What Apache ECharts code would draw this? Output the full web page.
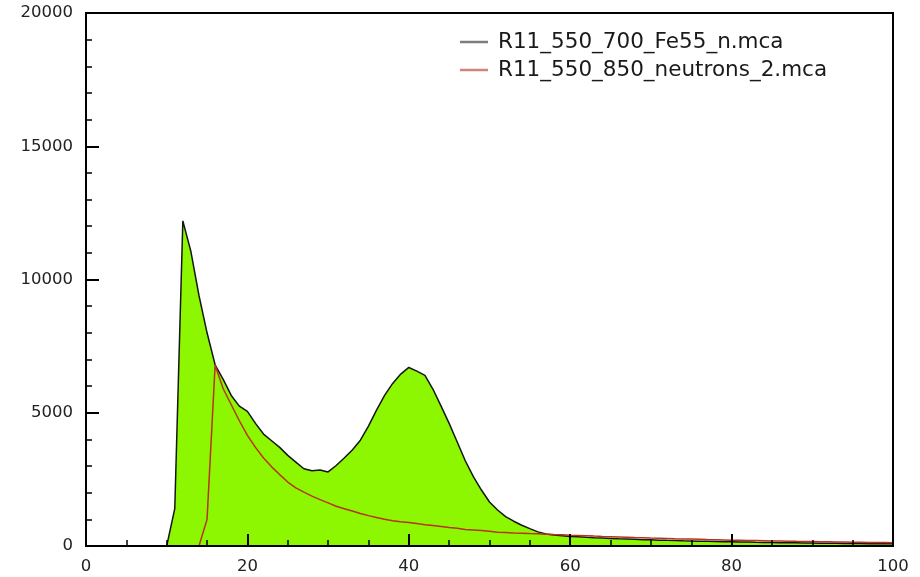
<!DOCTYPE html>
<html>
<head>
<meta charset="utf-8">
<script src="https://cdn.jsdelivr.net/npm/echarts@6/dist/echarts.min.js"></script>
<style>
  html, body { margin: 0; padding: 0; background: #fff; }
  #chart { width: 920px; height: 577px; }
</style>
</head>
<body>
<div id="chart"></div>
<script>
// Spectrum counts per channel (channel = array index, 0..100)
const fe55Name = 'R11_550_700_Fe55_n.mca';
const neutronName = 'R11_550_850_neutrons_2.mca';

const fe55Counts = [
  0, 0, 0, 0, 0, 0, 0, 0, 0, 0,
  0, 1400, 12200, 11050, 9400, 8000, 6800, 6250, 5650, 5250,
  5050, 4600, 4200, 3950, 3700, 3400, 3150, 2900, 2820, 2850,
  2780, 3020, 3300, 3600, 3970, 4500, 5100, 5650, 6100, 6450,
  6700, 6560, 6400, 5880, 5250, 4600, 3900, 3200, 2600, 2100,
  1650, 1350, 1100, 930, 780, 650, 530, 450, 410, 380,
  360, 345, 325, 310, 300, 285, 270, 262, 250, 238,
  232, 220, 212, 205, 196, 190, 182, 176, 170, 163,
  158, 150, 146, 140, 135, 130, 126, 121, 118, 113,
  110, 106, 102, 99, 96, 93, 90, 87, 84, 82,
  80
];

const neutronCounts = [
  0, 0, 0, 0, 0, 0, 0, 0, 0, 0,
  0, 0, 0, 0, 0, 1000, 6780, 5900, 5300, 4700,
  4150, 3700, 3300, 2970, 2680, 2400, 2180, 2020, 1870, 1740,
  1620, 1490, 1400, 1310, 1220, 1140, 1070, 1000, 950, 910,
  880, 845, 800, 765, 730, 695, 665, 620, 600, 580,
  555, 520, 505, 490, 478, 466, 455, 443, 430, 418,
  405, 395, 385, 372, 360, 350, 340, 330, 318, 308,
  298, 290, 282, 272, 265, 258, 250, 242, 236, 228,
  220, 214, 208, 202, 196, 190, 185, 180, 174, 170,
  165, 160, 156, 152, 147, 143, 139, 135, 131, 127,
  123
];

const xTicks = { min: 0, max: 100, step: 20 };
const yTicks = { min: 0, max: 20000, step: 5000 };

const toPairs = arr => arr.map((v, i) => [i, v]);

const chart = echarts.init(document.getElementById('chart'), null, { renderer: 'canvas' });

const labelFont = { fontFamily: 'DejaVu Sans', fontSize: 16.5, color: '#222' };
const plainNumber = v => String(v);

chart.setOption({
  animation: false,
  backgroundColor: '#ffffff',
  grid: {
    left: 86, right: 27, top: 13, bottom: 31,
    show: true, borderColor: '#000', borderWidth: 2, backgroundColor: 'transparent'
  },
  legend: {
    orient: 'vertical',
    left: 455,
    top: 26,
    itemWidth: 28,
    itemHeight: 2.5,
    itemGap: 6,
    icon: 'rect',
    textStyle: {
      fontFamily: 'DejaVu Sans', fontSize: 21.5, color: '#1a1a1a',
      lineHeight: 22, padding: [0, 0, 0, 5]
    },
    data: [
      { name: fe55Name, itemStyle: { color: '#7d7d7d' } },
      { name: neutronName, itemStyle: { color: '#d2847c' } }
    ]
  },
  xAxis: {
    type: 'value',
    z: 10,
    min: xTicks.min, max: xTicks.max, interval: xTicks.step,
    axisLine: { show: true, onZero: false, lineStyle: { color: '#000', width: 2 } },
    axisTick: { show: true, inside: true, length: 12, lineStyle: { color: '#000', width: 2 } },
    minorTick: { show: true, splitNumber: 4, length: 6, lineStyle: { color: '#000', width: 1.5 } },
    splitLine: { show: false },
    axisLabel: Object.assign({ margin: 12, formatter: plainNumber }, labelFont)
  },
  yAxis: {
    type: 'value',
    z: 10,
    min: yTicks.min, max: yTicks.max, interval: yTicks.step,
    axisLine: { show: true, onZero: false, lineStyle: { color: '#000', width: 2 } },
    axisTick: { show: true, inside: true, length: 13, lineStyle: { color: '#000', width: 2 } },
    minorTick: { show: true, splitNumber: 5, length: 6, lineStyle: { color: '#000', width: 1.5 } },
    splitLine: { show: false },
    axisLabel: Object.assign({ margin: 13, formatter: plainNumber }, labelFont)
  },
  series: [
    {
      name: fe55Name,
      type: 'line',
      data: toPairs(fe55Counts),
      symbol: 'none',
      lineStyle: { color: '#151515', width: 1.5 },
      itemStyle: { color: '#151515' },
      areaStyle: { color: '#8cf700', opacity: 1 },
      z: 2
    },
    {
      name: neutronName,
      type: 'line',
      data: toPairs(neutronCounts),
      symbol: 'none',
      lineStyle: { color: '#b8321e', width: 1.5 },
      itemStyle: { color: '#b8321e' },
      z: 3
    }
  ]
});
</script>
</body>
</html>
